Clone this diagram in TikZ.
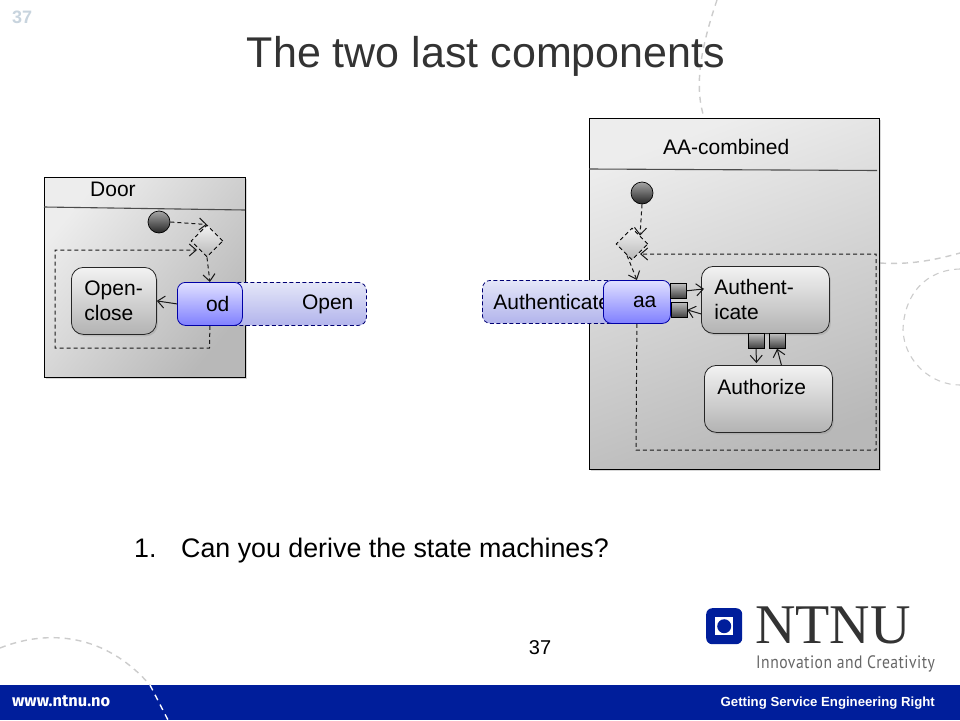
\documentclass[tikz,border=0pt]{standalone}
\usepackage{fontspec}
\setmainfont{Liberation Sans}
\newfontfamily\logoserif{Liberation Serif}
\newfontfamily\urlfont{Fira Sans}
\newfontfamily\sloganfont[LetterSpace=3]{PT Sans}
\usetikzlibrary{shapes.geometric,arrows.meta,shadows}
\definecolor{ntnublue}{RGB}{0,30,155}
\definecolor{pagegrey}{RGB}{200,212,222}
\definecolor{ghosttop}{RGB}{228,230,248}
\definecolor{ghostbot}{RGB}{178,180,236}
\newcommand{\fsz}[1]{\fontsize{#1}{\dimexpr #1pt*12/10\relax}\selectfont}
\tikzset{
  x=1pt,y=-1pt,
  swirl/.style={draw=black!20,line width=1.4pt,dash pattern=on 6pt off 5pt},
  container/.style={draw=black,line width=0.9pt,top color=black!7,bottom color=black!28,anchor=north west,inner sep=0pt,
     drop shadow={shadow xshift=1.5pt,shadow yshift=-2pt,opacity=.3}},
  divider/.style={draw=black!70,line width=1.1pt},
  lane/.style={font=\fsz{21},inner sep=0pt,anchor=base west},
  statebox/.style={draw=black!85,line width=0.8pt,rounded corners=12pt,top color=black!5,bottom color=black!30,
     align=left,font=\fontsize{21}{25}\selectfont,anchor=north west,inner sep=0pt,inner xsep=13pt,
     drop shadow={shadow xshift=1.5pt,shadow yshift=-2pt,opacity=.25}},
  odbox/.style={draw=blue!50!black!70!blue,line width=0.8pt,rounded corners=8pt,top color=blue!12,bottom color=blue!50,
     anchor=north west,inner sep=0pt,minimum height=43pt,font=\fsz{21},align=right},
  ghost/.style={draw=blue!45!black,dash pattern=on 4pt off 2.5pt,line width=0.8pt,rounded corners=8pt,top color=ghosttop,bottom color=ghostbot,
     anchor=north west,inner sep=0pt,minimum height=43pt,font=\fsz{21}},
  startdot/.style={circle,draw=black,line width=0.7pt,minimum size=22pt,inner sep=0pt,top color=black!35,bottom color=black!85},
  choice/.style={diamond,draw=black,dash pattern=on 4pt off 3pt,line width=0.9pt,minimum size=32pt,inner sep=0pt,aspect=1,top color=black!5,bottom color=black!28},
  port/.style={rectangle,draw=black,line width=0.7pt,minimum width=15.5pt,minimum height=15pt,inner sep=0pt,anchor=north west,top color=black!25,bottom color=black!75},
  flow/.style={draw=black!90,line width=1pt,-{Straight Barb[length=7pt,width=12pt]}},
  dflow/.style={flow,dash pattern=on 4pt off 3pt},
}
\begin{document}
\begin{tikzpicture}
\useasboundingbox (0,0) rectangle (960,720);
\fill[white] (0,0) rectangle (960,720);
% background swirls
\draw[swirl] (717,0) .. controls (700,50) and (695,85) .. (703,114);
\draw[swirl] (880,263) .. controls (910,265) and (935,260) .. (960,253);
\draw[swirl,line width=1.1pt] (960,269) .. controls (925,270) and (904,295) .. (903,330) .. controls (904,360) and (930,385) .. (960,385);
\draw[swirl] (0,648) .. controls (40,632) and (100,628) .. (150,685);
% footer band
\fill[ntnublue] (0,685) rectangle (960,720);
\draw[white,line width=1.4pt,dash pattern=on 6pt off 5pt] (150,685) -- (168,720);
% slide texts
\node[text=pagegrey,font=\bfseries\fsz{18},inner sep=0pt,anchor=base west] (pg) at (12,23) {37};
\node[text=black!80,font=\fsz{43},inner sep=0pt,anchor=base] (title) at (486,67) {The two last components};
\node[font=\fsz{26.8},inner sep=0pt,anchor=base west] (num) at (134,557) {1.};
\node[font=\fsz{26.8},inner sep=0pt,anchor=base west] (question) at (181,557) {Can you derive the state machines?};
\node[font=\fsz{20},inner sep=0pt,anchor=base] (page) at (540,654) {37};
\node[text=white,font=\urlfont\bfseries\fsz{16.4},inner sep=0pt,anchor=base west] (url) at (12,706) {www.ntnu.no};
\node[text=white,font=\bfseries\fsz{13.2},inner sep=0pt,anchor=base east] (tag) at (935,706) {Getting Service Engineering Right};
% logo
\node[fill=ntnublue,rounded corners=6pt,minimum size=36pt,inner sep=0pt,anchor=north west] (logo) at (706,608) {};
\node[fill=white,minimum size=18pt,inner sep=0pt] (logoin) at (logo.center) {};
\node[fill=ntnublue,circle,minimum size=14pt,inner sep=0pt] (logodot) at (logo.center) {};
\node[text=black!80,font=\logoserif\fsz{56},inner sep=0pt,anchor=base west] (ntnu) at (755,643) {NTNU};
\node[text=black!60,font=\sloganfont\fsz{18},inner sep=0pt,anchor=base west] (slogan) at (756,668) {\scalebox{.87}[1]{Innovation and Creativity}};

% Door
\node[container,shading angle=50,minimum width=201pt,minimum height=200pt] (door) at (44,177) {};
\coordinate (dl) at (44,207); \coordinate (dr) at (245,210);
\draw[divider] (dl) -- (dr);
\node[lane] (doorlabel) at (90,196) {Door};
\node[startdot] (ds) at (159,222) {};
\node[choice] (dd) at (207,241) {};
\node[statebox,minimum width=85pt,minimum height=67pt,text width=59pt] (oc) at (71,267) {Open-\\close};
\node[ghost,minimum width=160pt,align=right,text width=134pt,inner xsep=0pt] (open) at (206,282) {Open};
\node[odbox,minimum width=65pt,text width=39pt] (od) at (177,282) {od};
\coordinate (d1) at (209.5,348);
\coordinate (d2) at (55,348);
\coordinate (d3) at (55,250);
\coordinate (d4) at (197,250);
\draw[dflow] (ds.east) -- (dd.north);
\draw[dflow] (dd.south) -- (od.north);
\draw[flow] (od.west) -- (oc.east);
\draw[dflow] (od.south) -- (d1) -- (d2) -- (d3) -- (d4);

% AA-combined
\node[container,shading angle=20,minimum width=290pt,minimum height=351pt] (aac) at (589,118) {};
\coordinate (al) at (589,169); \coordinate (ar) at (877,170.5);
\draw[divider] (al) -- (ar);
\node[lane] (aalabel) at (663,154) {AA-combined};
\node[startdot] (as) at (642,193) {};
\node[choice] (ad) at (632,244) {};
\node[ghost,minimum width=140pt,align=left,text width=140pt,inner xsep=0pt] (auth) at (482,280) {\hspace*{11pt}Authenticate};
\node[odbox,minimum width=67pt,text width=39pt] (aa) at (603,280) {aa};
\node[port] (p1) at (670,283) {};
\node[port] (p2) at (671,302) {};
\node[statebox,minimum width=128pt,minimum height=67pt,text width=102pt] (ath) at (701,266) {Authent-\\icate};
\node[statebox,minimum width=128pt,minimum height=67pt,text width=102pt] (atz) at (704,365) {Authorize\\[0pt]~};
\node[port] (p3) at (748,333) {};
\node[port] (p4) at (769,333) {};
\coordinate (a1) at (636,450);
\coordinate (a2) at (876,450);
\coordinate (a3) at (876,254);
\coordinate (a4) at (640,254);
\draw[dflow] (as.south) -- ([xshift=8pt,yshift=-8pt]ad.north);
\draw[dflow] ([xshift=-5pt,yshift=5pt]ad.south) -- (aa.north);
\draw[dflow] (aa.south) -- (a1) -- (a2) -- (a3) -- (a4);
\draw[flow] (p1.east) -- ([xshift=3pt,yshift=11pt]ath.west);
\draw[flow] ([yshift=-14pt]ath.west) -- (p2.east);
\draw[flow] (p3.south) -- ([xshift=-12pt,yshift=2pt]atz.north);
\draw[flow] ([xshift=13pt]atz.north) -- (p4.south);
\end{tikzpicture}
\end{document}
